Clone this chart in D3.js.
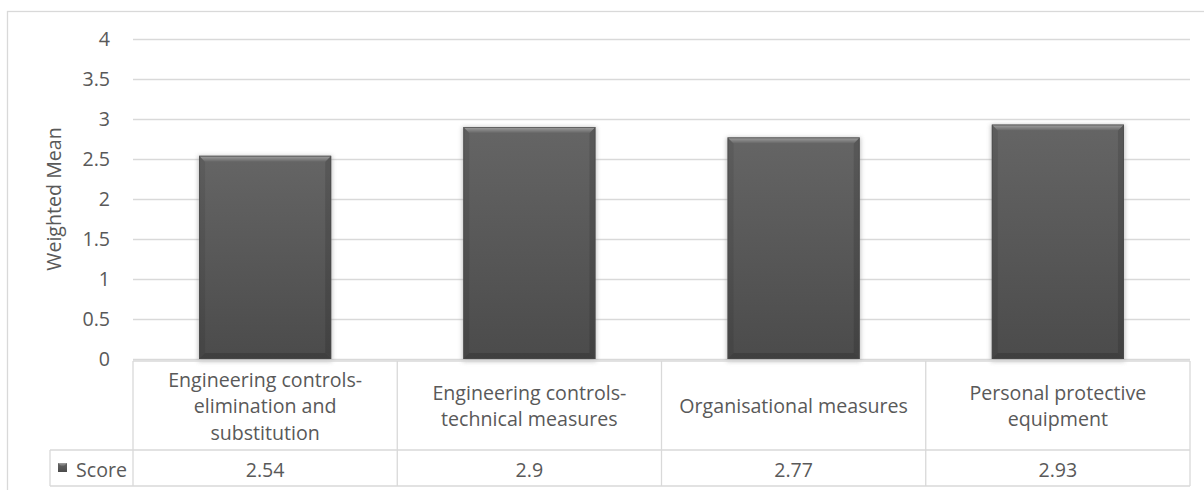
<!DOCTYPE html>
<html>
<head>
<meta charset="utf-8">
<script src="https://cdn.jsdelivr.net/npm/d3@7"></script>
<style>
  html, body { margin: 0; padding: 0; background: #fff; }
  svg { display: block; }
  text { font-family: "Open Sans", "Liberation Sans", sans-serif; fill: #595959; }
</style>
</head>
<body>
<svg id="chart" width="1204" height="490"></svg>
<script>
// ---- data ----
const categories = [
  "Engineering controls-elimination and substitution",
  "Engineering controls-technical measures",
  "Organisational measures",
  "Personal protective equipment"
];
const scores = [2.54, 2.9, 2.77, 2.93];
const scoreLabels = ["2.54", "2.9", "2.77", "2.93"];
const yTicks = [0, 0.5, 1, 1.5, 2, 2.5, 3, 3.5, 4];
const seriesName = "Score";
const yTitle = "Weighted Mean";

// ---- layout ----
const plotL = 133, plotR = 1190, plotT = 39, plotB = 359;
const headerTop = 361, headerBot = 450, rowBot = 486, tableL = 50;
const gridColor = "#d9d9d9";

const svg = d3.select("#chart");

// fit font size against the reference text width
const probe = svg.append("text").attr("font-size", 20).text("Engineering controls-");
const pw = probe.node().getComputedTextLength();
probe.remove();
const FS = +(20 * 194 / pw).toFixed(2);

// defs
const defs = svg.append("defs");
const g1 = defs.append("linearGradient").attr("id", "barFill").attr("x1", 0).attr("y1", 0).attr("x2", 0).attr("y2", 1);
g1.append("stop").attr("offset", "0%").attr("stop-color", "#656565");
g1.append("stop").attr("offset", "100%").attr("stop-color", "#4b4b4b");
const g2 = defs.append("linearGradient").attr("id", "bevelTop").attr("x1", 0).attr("y1", 0).attr("x2", 0).attr("y2", 1);
g2.append("stop").attr("offset", "0%").attr("stop-color", "#a2a2a2");
g2.append("stop").attr("offset", "100%").attr("stop-color", "#666666");
const f = defs.append("filter").attr("id", "shadow").attr("x", "-10%").attr("y", "-10%").attr("width", "120%").attr("height", "120%");
f.append("feGaussianBlur").attr("stdDeviation", 2.2);

// outer frame
svg.append("rect").attr("x", 7.5).attr("y", 11.5).attr("width", 1210).attr("height", 500)
  .attr("fill", "none").attr("stroke", gridColor).attr("stroke-width", 1.3);

// scales
const y = d3.scaleLinear().domain([0, 4]).range([plotB, plotT]);
const x = d3.scaleBand().domain(categories).range([plotL, plotR]).paddingInner(0.5).paddingOuter(0.25);

// y axis with gridlines
const yAxis = d3.axisLeft(y).tickValues(yTicks).tickFormat(d => String(d))
  .tickSize(-(plotR - plotL)).tickPadding(23);
const ya = svg.append("g").attr("transform", `translate(${plotL},0)`).call(yAxis);
ya.select(".domain").remove();
ya.selectAll(".tick line").attr("stroke", gridColor).attr("stroke-width", 1.3);
ya.selectAll(".tick text").attr("font-size", FS).attr("font-family", null).attr("fill", "#595959");

// y title
svg.append("text")
  .attr("transform", `translate(53,${(plotT + plotB) / 2}) rotate(-90)`)
  .attr("text-anchor", "middle").attr("dominant-baseline", "central")
  .attr("font-size", FS).text(yTitle);

// bars
const bars = svg.append("g").selectAll("g").data(categories).join("g");
const bv = 6;
bars.each(function(c, i) {
  const g = d3.select(this);
  const x0 = x(c), x1 = x(c) + x.bandwidth();
  const y0 = y(scores[i]), y1 = y(0);
  g.append("rect").attr("x", x0 - 1).attr("y", y0).attr("width", x1 - x0 + 2).attr("height", y1 - y0 + 2.5)
    .attr("fill", "#9a9a9a").attr("opacity", 0.6).attr("filter", "url(#shadow)");
  g.append("rect").attr("x", x0).attr("y", y0).attr("width", x1 - x0).attr("height", y1 - y0)
    .attr("fill", "url(#barFill)");
  g.append("path").attr("d", `M${x0},${y0}L${x0 + bv},${y0 + bv}L${x0 + bv},${y1 - bv}L${x0},${y1}Z`).attr("fill", "#000").attr("opacity", 0.08);
  g.append("path").attr("d", `M${x1},${y0}L${x1 - bv},${y0 + bv}L${x1 - bv},${y1 - bv}L${x1},${y1}Z`).attr("fill", "#000").attr("opacity", 0.12);
  g.append("path").attr("d", `M${x0},${y1}L${x0 + bv},${y1 - bv}L${x1 - bv},${y1 - bv}L${x1},${y1}Z`).attr("fill", "#000").attr("opacity", 0.15);
  g.append("path").attr("d", `M${x0},${y0}L${x1},${y0}L${x1 - bv},${y0 + bv}L${x0 + bv},${y0 + bv}Z`).attr("fill", "url(#bevelTop)");
  g.append("rect").attr("x", x0 + 0.5).attr("y", y0 + 0.5).attr("width", x1 - x0 - 1).attr("height", y1 - y0 - 1)
    .attr("fill", "none").attr("stroke", "#4a4a4a").attr("stroke-width", 1).attr("opacity", 0.7);
});

// data table
const cellL = c => x(c) - x.bandwidth() / 2;
const table = svg.append("g").attr("stroke", gridColor).attr("stroke-width", 1.3).attr("fill", "none");
table.append("line").attr("x1", plotL).attr("x2", plotR).attr("y1", headerTop).attr("y2", headerTop);
table.append("line").attr("x1", tableL).attr("x2", plotR).attr("y1", headerBot).attr("y2", headerBot);
table.append("line").attr("x1", tableL).attr("x2", plotR).attr("y1", rowBot).attr("y2", rowBot);
table.append("line").attr("x1", tableL).attr("x2", tableL).attr("y1", headerBot).attr("y2", rowBot);
categories.forEach(c => {
  table.append("line").attr("x1", cellL(c)).attr("x2", cellL(c)).attr("y1", headerTop).attr("y2", rowBot);
});
table.append("line").attr("x1", plotR).attr("x2", plotR).attr("y1", headerTop).attr("y2", rowBot);

// wrap categories (break after spaces and hyphens)
const meas = svg.append("text").attr("font-size", FS);
function tw(s) { meas.text(s); return meas.node().getComputedTextLength(); }
function wrap(label, maxW) {
  const tokens = label.match(/[^\s-]+-?\s*|\s+/g);
  const lines = []; let cur = "";
  tokens.forEach(t => {
    const test = cur + t;
    if (cur && tw(test.trim()) > maxW) { lines.push(cur.trim()); cur = t; }
    else cur = test;
  });
  if (cur.trim()) lines.push(cur.trim());
  return lines;
}
const lineH = 26.5;
const wrapW = x.step() - 28;
categories.forEach((c, i) => {
  const lines = wrap(c, wrapW);
  const cx = x(c) + x.bandwidth() / 2;
  const mid = (headerTop + headerBot) / 2;
  const t = svg.append("text").attr("text-anchor", "middle").attr("font-size", FS);
  lines.forEach((ln, k) => {
    t.append("tspan").attr("x", cx)
      .attr("y", mid + (k - (lines.length - 1) / 2) * lineH)
      .attr("dominant-baseline", "central").text(ln);
  });
  svg.append("text").attr("x", cx).attr("y", (headerBot + rowBot) / 2 + 1)
    .attr("text-anchor", "middle").attr("dominant-baseline", "central")
    .attr("font-size", FS).text(scoreLabels[i]);
});
meas.remove();

// legend key in table
const kx = 58, ky = 463, ks = 9;
svg.append("rect").attr("x", kx).attr("y", ky).attr("width", ks).attr("height", ks).attr("fill", "url(#barFill)");
svg.append("path").attr("d", `M${kx},${ky}L${kx + ks},${ky}L${kx + ks - 3},${ky + 3}L${kx + 3},${ky + 3}Z`).attr("fill", "url(#bevelTop)");
svg.append("text").attr("x", 76).attr("y", (headerBot + rowBot) / 2 + 1)
  .attr("dominant-baseline", "central").attr("font-size", FS).text(seriesName);
</script>
</body>
</html>
